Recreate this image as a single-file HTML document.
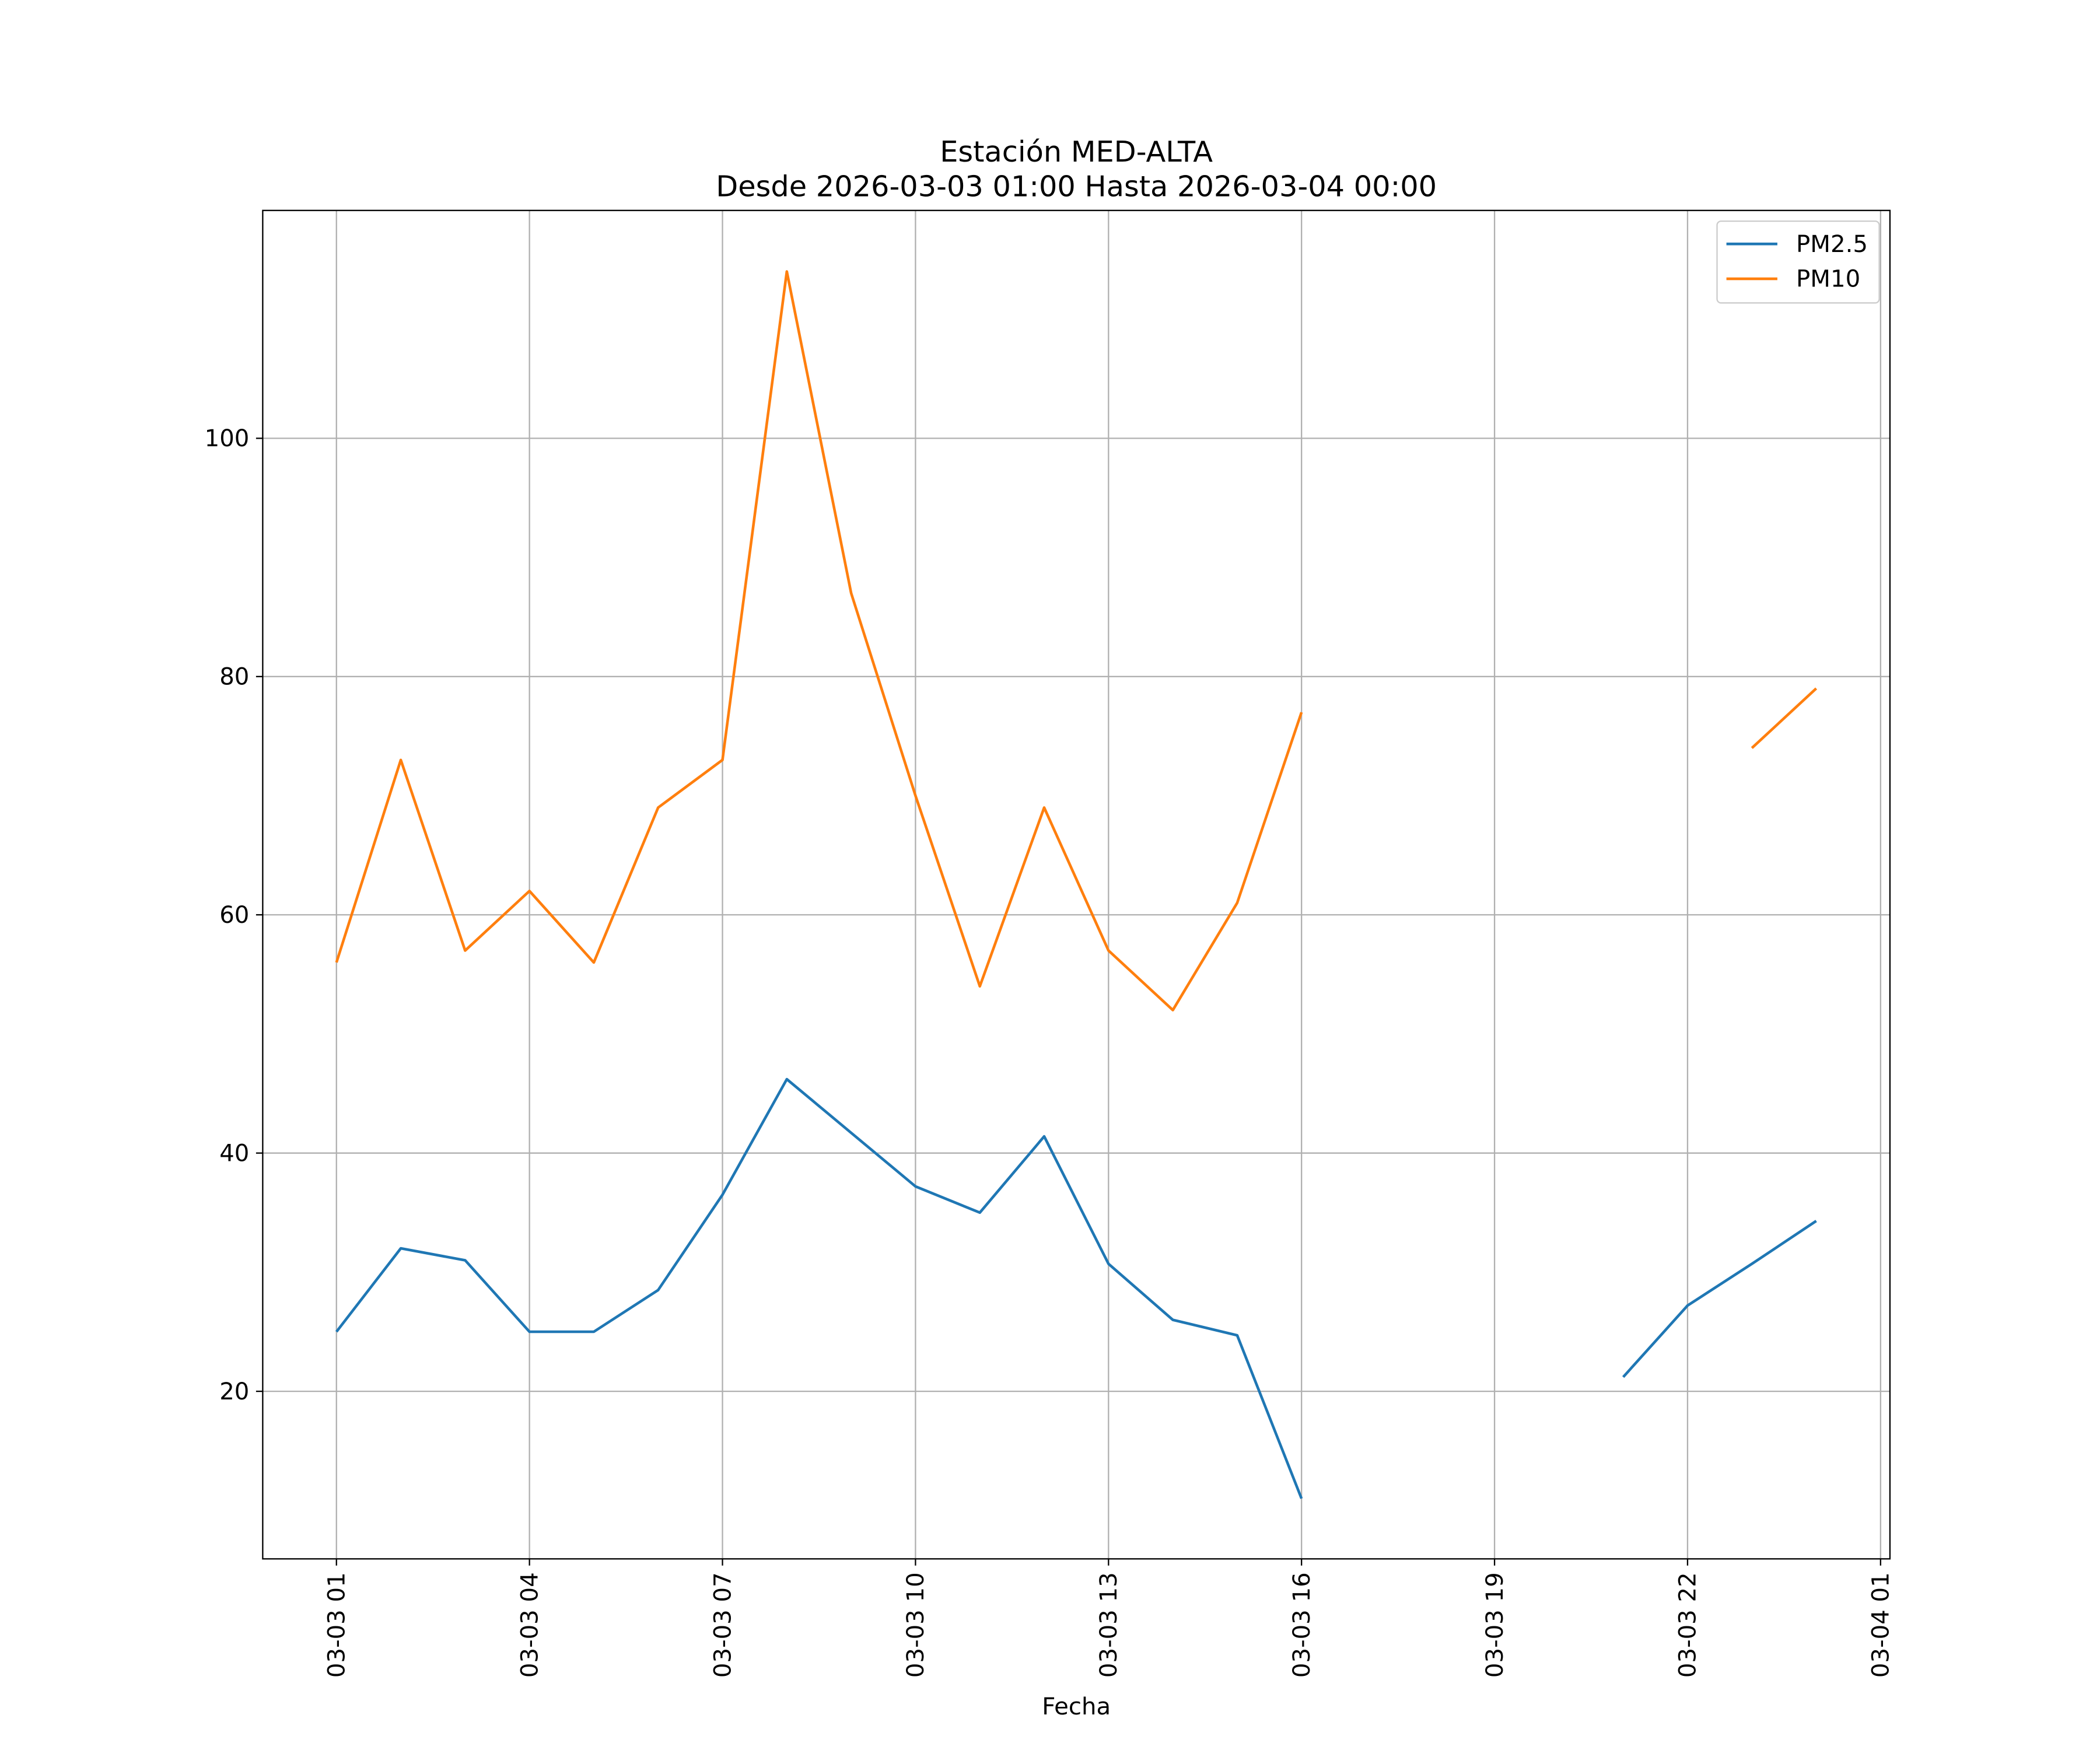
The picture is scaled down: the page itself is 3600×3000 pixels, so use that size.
<!DOCTYPE html>
<html><head><meta charset="utf-8"><style>
html,body{margin:0;padding:0;background:#fff;}
svg{display:block;font-family:"DejaVu Sans","Liberation Sans",sans-serif;}
</style></head><body>
<svg id="chart" width="3600" height="3000" viewBox="0 0 1566.7 1305.6" xmlns="http://www.w3.org/2000/svg">
<rect width="1600" height="1320" fill="#fff"/>
<g id="grid"></g>
<g id="series"></g>
<rect x="196" y="157" width="1214" height="1006" fill="none" stroke="#000" stroke-width="1"/>
<g id="ticks"></g>
<text x="803" y="120.5" text-anchor="middle" font-size="21.5">Estación MED-ALTA</text>
<text x="803" y="146.5" text-anchor="middle" font-size="21.5">Desde 2026-03-03 01:00 Hasta 2026-03-04 00:00</text>
<text x="803" y="1279" text-anchor="middle" font-size="17.5">Fecha</text>
<g>
<rect x="1281" y="165" width="121" height="61" fill="#fff" stroke="#ccc" rx="3"/>
<line x1="1288" y1="182" x2="1326" y2="182" stroke="#1f77b4" stroke-width="2"/>
<text x="1340" y="188" font-size="17.5">PM2.5</text>
<line x1="1288" y1="208" x2="1326" y2="208" stroke="#ff7f0e" stroke-width="2"/>
<text x="1340" y="214" font-size="17.5">PM10</text>
</g>
</svg>
<script>
const hours = [1,2,3,4,5,6,7,8,9,10,11,12,13,14,15,16,17,18,19,20,21,22,23,24];
const pm25 = [25,32,31,25,25,28.5,36.5,46.2,41.7,37.2,35,41.4,30.7,26,24.7,11,null,null,null,null,21.2,27.2,30.7,34.3];
const pm10 = [56,73,57,62,56,69,73,114,87,70,54,69,57,52,61,77,null,null,null,null,null,null,74,79];
const xTickHours = [1,4,7,10,13,16,19,22,25];
const xTickLabels = ["03-03 01","03-03 04","03-03 07","03-03 10","03-03 13","03-03 16","03-03 19","03-03 22","03-04 01"];
const yTicks = [20,40,60,80,100];

const NS="http://www.w3.org/2000/svg";
const X = h => 251 + (h-1)*48;
const Y = v => 1038 - (v-20)*(711/80);
function mk(tag, attrs, parent){const e=document.createElementNS(NS,tag);for(const k in attrs)e.setAttribute(k,attrs[k]);parent.appendChild(e);return e;}
const grid=document.getElementById('grid'), ticks=document.getElementById('ticks'), series=document.getElementById('series');
xTickHours.forEach((h,i)=>{
  const x=X(h);
  const g=mk('line',{x1:x,y1:157,x2:x,y2:1163,stroke:'#b0b0b0','stroke-width':1},grid);
  
  
  mk('line',{x1:x,y1:1163,x2:x,y2:1168,stroke:'#000'},ticks);
  const t=mk('text',{x:0,y:0,'font-size':17.5,'text-anchor':'end',transform:`translate(${x+6},1173) rotate(-90)`},ticks);
  
  
  t.textContent=xTickLabels[i];
});
yTicks.forEach(v=>{
  const y=Y(v);
  const g=mk('line',{x1:196,y1:y,x2:1410,y2:y,stroke:'#b0b0b0','stroke-width':1},grid);
  
  
  mk('line',{x1:191,y1:y,x2:196,y2:y,stroke:'#000'},ticks);
  const t=mk('text',{x:186,y:y+6,'font-size':17.5,'text-anchor':'end'},ticks);
  
  
  t.textContent=v;
});
function draw(vals,color,name){
  let seg=[];
  const flush=()=>{ if(seg.length>1){const p=mk('polyline',{points:seg.join(' '),fill:'none',stroke:color,'stroke-width':2,'stroke-linejoin':'round'},series);
    
    } seg=[];};
  vals.forEach((v,i)=>{ if(v===null){flush();} else seg.push(X(hours[i])+','+Y(v)); });
  flush();
}
draw(pm25,'#1f77b4','pm25-line');
draw(pm10,'#ff7f0e','pm10-line');
</script>
</body></html>
